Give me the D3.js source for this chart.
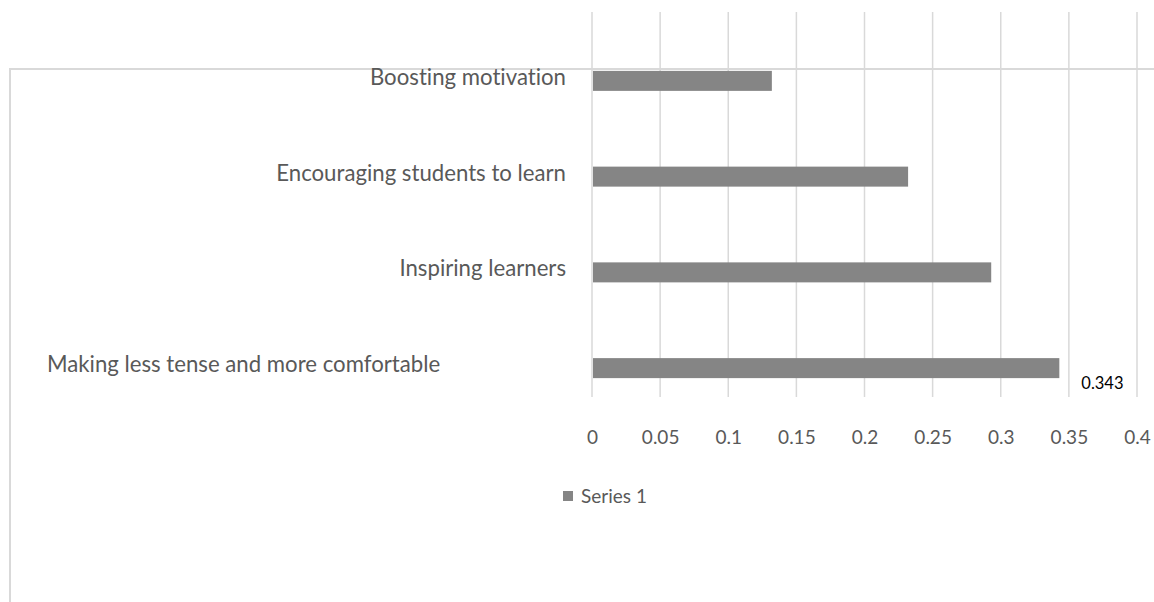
<!DOCTYPE html>
<html><head><meta charset="utf-8">
<script src="https://cdn.jsdelivr.net/npm/d3@7"></script>
<style>body{margin:0;background:#fff}svg{display:block}text{font-variant-ligatures:none;font-feature-settings:"liga" 0}</style>
</head><body>
<script>
const categories = ["Boosting motivation","Encouraging students to learn","Inspiring learners","Making less tense and more comfortable"];
const values = [0.132, 0.232, 0.293, 0.343];
const ticks = [0,0.05,0.1,0.15,0.2,0.25,0.3,0.35,0.4];
const seriesName = "Series 1";
const labelled = [false,false,false,true];

const W=1154,H=602;
const svg=d3.select("body").append("svg").attr("width",W).attr("height",H);
const font="Lato, 'Open Sans', sans-serif";
const x=d3.scaleLinear().domain([0,0.4]).range([592,1137]);
const y=d3.scaleBand().domain(categories).range([33,416]).paddingInner(0.79).paddingOuter(0.395);

// outer border fragment
svg.append("path").attr("d","M10,602V69H1154").attr("fill","none").attr("stroke","#d9d9d9").attr("stroke-width",2);

// gridlines
svg.append("g").selectAll("line").data(ticks).join("line")
  .attr("x1",d=>x(d)).attr("x2",d=>x(d)).attr("y1",12).attr("y2",397)
  .attr("stroke","#d9d9d9").attr("stroke-width",1.5);

// bars
const bh=20;
svg.append("g").selectAll("rect").data(values).join("rect")
  .attr("x",x(0)+1).attr("y",(d,i)=>y(categories[i])+y.bandwidth()/2-bh/2)
  .attr("width",d=>x(d)-x(0)-1).attr("height",bh).attr("fill","#858585");

// category labels
svg.append("g").selectAll("text").data(categories).join("text")
  .attr("y",d=>y(d)+y.bandwidth()/2+4)
  .attr("font-family",font).attr("font-size",22.2).attr("fill","#595959")
  .text(d=>d)
  .each(function(){
    const t=d3.select(this);
    const w=this.getComputedTextLength();
    if(w>350){t.attr("x",47).attr("text-anchor","start");}
    else {t.attr("x",566).attr("text-anchor","end");}
  });

// data labels
svg.append("g").selectAll("text").data(values.map((v,i)=>({v,i})).filter(d=>labelled[d.i])).join("text")
  .attr("x",d=>x(d.v)+22).attr("y",d=>y(categories[d.i])+y.bandwidth()/2+bh/2+11)
  .attr("font-family",font).attr("font-size",16.5).attr("fill","#000")
  .text(d=>d3.format(".3f")(d.v));

// x axis tick labels
const ax=svg.append("g").attr("transform","translate(0,444)").call(d3.axisBottom(x).tickValues(ticks).tickSize(0).tickPadding(0).tickFormat(d=>String(d)));
ax.select(".domain").remove();
ax.selectAll("text").attr("font-family",font).attr("font-size",19).attr("fill","#595959").attr("dy",0);

// legend
svg.append("rect").attr("x",563).attr("y",491).attr("width",10).attr("height",10).attr("fill","#858585");
svg.append("text").attr("x",581).attr("y",503).attr("font-family",font).attr("font-size",19).attr("fill","#595959").text(seriesName);
</script>
</body></html>
